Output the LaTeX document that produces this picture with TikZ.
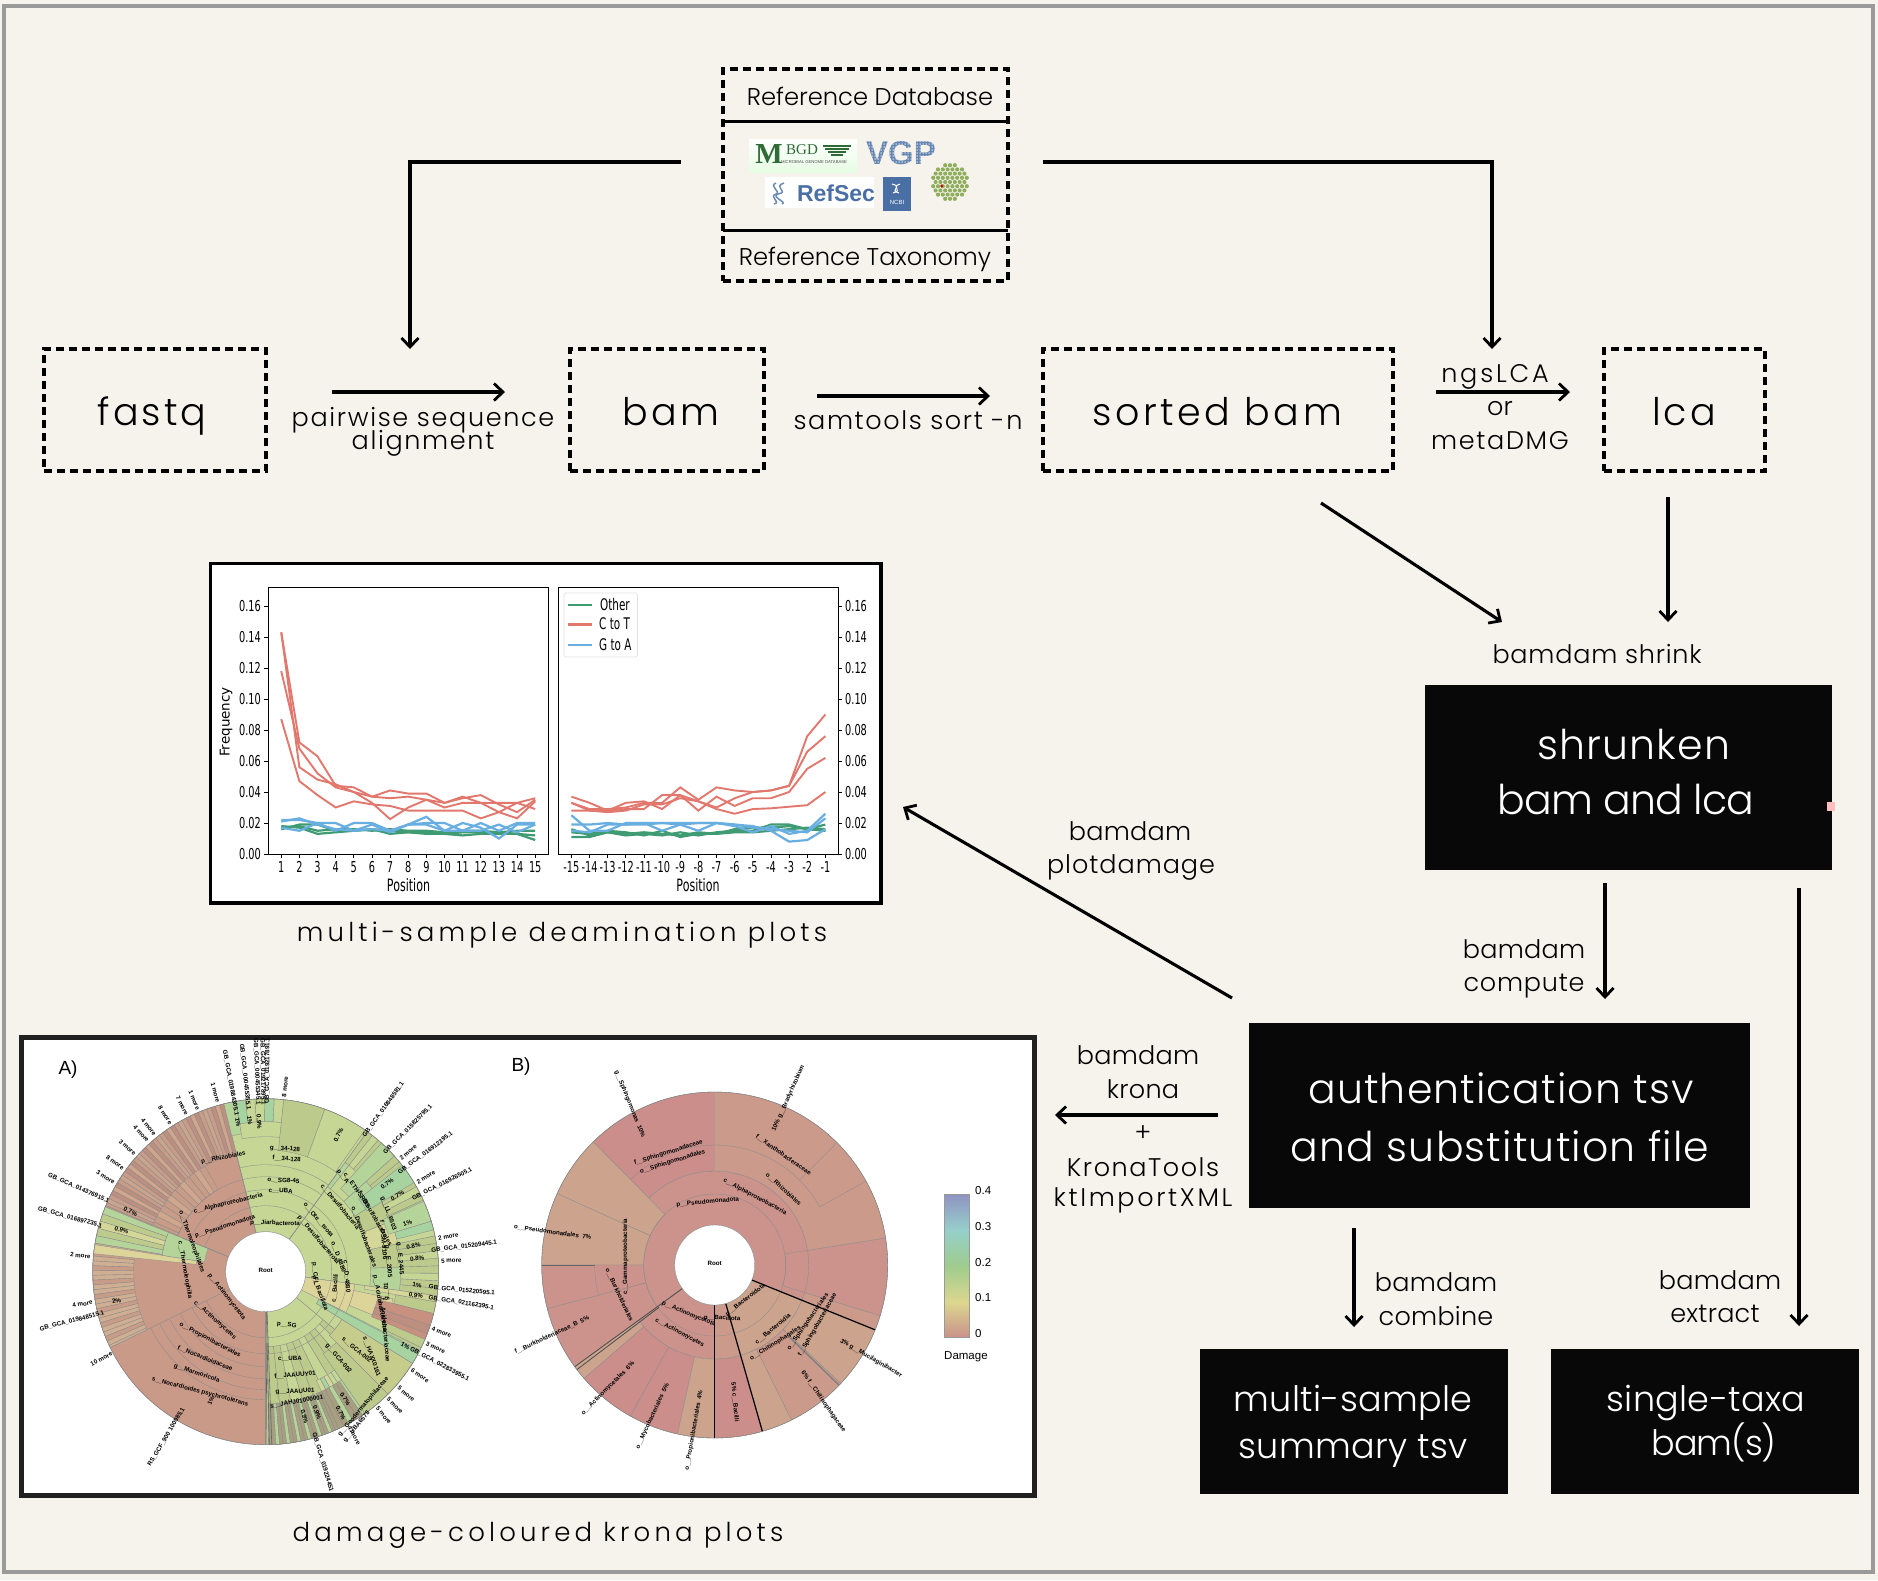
\documentclass[tikz,border=0pt]{standalone}
\usepackage{fontspec}
\usetikzlibrary{arrows.meta}
\setmainfont{Poppins Light}
\newfontfamily\labf{Poppins Light}[LetterSpace=1]
\newfontfamily\wide{Poppins Light}[LetterSpace=8]
\newfontfamily\capf{Poppins Light}[LetterSpace=16]
\newfontfamily\arialf{Liberation Sans}
\newfontfamily\plotf{DejaVu Sans}[FakeStretch=0.65]
\newfontfamily\dejaf{DejaVu Sans}
\newfontfamily\serf{Liberation Serif}
\definecolor{paper}{HTML}{F5F3EC}
\definecolor{frame}{HTML}{9A9A9A}
\definecolor{pred}{HTML}{E2786D}
\definecolor{pgreen}{HTML}{3E9B73}
\definecolor{pblue}{HTML}{68AEE0}
\definecolor{kr0}{HTML}{C99C88}\definecolor{kr1}{HTML}{C7907F}\definecolor{kr2}{HTML}{D0A68C}\definecolor{kr3}{HTML}{BD8F80}\definecolor{kr4}{HTML}{CFAE92}\definecolor{kr5}{HTML}{C9A48F}
\definecolor{kg0}{HTML}{C6D694}\definecolor{kg1}{HTML}{B5D49A}\definecolor{kg2}{HTML}{A6D3A0}\definecolor{kg3}{HTML}{D5D798}\definecolor{kg4}{HTML}{BCCB8C}\definecolor{kg5}{HTML}{C2D89A}
\definecolor{km0}{HTML}{B5D49A}\definecolor{km1}{HTML}{C69F8A}\definecolor{km2}{HTML}{9FC893}\definecolor{km3}{HTML}{C6D694}\definecolor{km4}{HTML}{A89F80}\definecolor{km5}{HTML}{D5D798}
\definecolor{kred}{HTML}{CA9A88}\definecolor{klg}{HTML}{C6D694}\definecolor{ktan}{HTML}{DDD49A}\definecolor{kol}{HTML}{C5CC8C}
\definecolor{bA}{HTML}{CB938B}\definecolor{bB}{HTML}{CC9A8B}\definecolor{bC}{HTML}{CCA38C}\definecolor{bD}{HTML}{CB8E8A}
\definecolor{bar0}{HTML}{C9928A}\definecolor{bar1}{HTML}{DCD78F}\definecolor{bar2}{HTML}{9FCC8D}\definecolor{bar3}{HTML}{96CFCB}\definecolor{bar4}{HTML}{8F93C2}
\definecolor{logog}{HTML}{2F6B36}\definecolor{logob}{HTML}{4A6FA5}\definecolor{hexg}{HTML}{8FAE5D}
\tikzset{
 dbox/.style={draw=black,line width=3.2pt,dash pattern=on 8pt off 5pt,inner sep=0pt},
 bbox/.style={fill=black!97,draw=none,inner sep=0pt},
 conn/.style={draw=black,line width=3.1pt,-{Straight Barb[length=9pt,width=17pt,line width=2.8pt]}},
 t25/.style={font=\labf\fontsize{25.5}{26}\selectfont,inner sep=0pt},
 ts25/.style={font=\labf\addfontfeatures{LetterSpace=#1}\fontsize{25.5}{26}\selectfont,inner sep=0pt},
 tbig/.style={font=\wide\fontsize{38}{38}\selectfont,inner sep=0pt},
 twh/.style={font=\labf\addfontfeatures{LetterSpace=#1}\fontsize{41}{42}\selectfont,text=white,inner sep=0pt},
 twh2/.style={font=\labf\fontsize{35}{36}\selectfont,text=white,inner sep=0pt},
 tcap/.style={font=\capf\fontsize{26}{28}\selectfont,inner sep=0pt},
 ptick/.style={font=\plotf\fontsize{15}{15}\selectfont,inner sep=0pt},
 ppos/.style={font=\plotf\fontsize{17}{17}\selectfont,inner sep=0pt},
 krl/.style={draw=black!45,line width=0.35pt},
 ktxt/.style={font=\arialf\bfseries\fontsize{6.2}{6.2}\selectfont,inner sep=0pt,text=black},
 barl/.style={font=\arialf\fontsize{11.5}{12}\selectfont,inner sep=0pt},
}
\newcommand\kw[5]{\filldraw[krl,fill=#5] (#1:#3) -- (#1:#4) arc[start angle=#1,end angle=#2,radius=#4] -- (#2:#3) arc[start angle=#2,end angle=#1,radius=#3] -- cycle;}
% \stripes{from}{to}{step}{inner radius}{palette}
\newcommand\stripes[5]{\pgfmathsetmacro\snd{#1+#3}\foreach \sa [count=\si] in {#1,\snd,...,#2}{%
  \pgfmathtruncatemacro\idx{mod(\si*\si+2*\si+\si*int(#4/10),6)}%
  \pgfmathsetmacro\sb{min(\sa+#3,#2)}%
  \kw{\sa}{\sb}{#4}{173}{#5\idx}}}
\newcount\klc
\newcommand\kz[4]{\global\advance\klc by 1 \node[ktxt,rotate=#3] (kl\the\klc) at ({(#1-767)/3},{(725-#2)/3}) {#4};}
\newcommand\kr[3]{\global\advance\klc by 1 \pgfmathsetmacro\rr{(cos(#1)<0)?#1+180:#1}\node[ktxt,rotate=\rr] (kl\the\klc) at (#1:#2) {#3};}
\newcommand\kbz[4]{\global\advance\klc by 1 \node[ktxt,rotate=#3] (kl\the\klc) at ({(#1-612)/2.851},{(705-#2)/3}) {#4};}
\newcommand\pline[3]{\foreach \v [count=\i] in {#3}{\ifnum\i=1 \xdef\pp{(\i,\v)}\else\xdef\pp{\pp -- (\i,\v)}\fi}\draw[color=#1,line width=#2] \pp;}
\begin{document}
\begin{tikzpicture}[x=1pt,y=-1pt,line join=miter]
\useasboundingbox (0,0) rectangle (1878,1580);
\fill[paper] (0,0) rectangle (1878,1580);
\draw[frame,line width=4pt] (4,6) rectangle (1873,1572);

% --- reference database
\node[dbox,minimum width=285pt,minimum height=212pt] (refdb) at (865.5,175) {};
\coordinate (refL) at (681,162);
\coordinate (refR) at (1043,162);
\draw[line width=3pt] (723,121) -- (1008,121);
\draw[line width=3pt] (723,230) -- (1008,230);
\node[font=\fontsize{24.2}{25}\selectfont,inner sep=0pt] (tdb) at (870,96) {Reference Database};
\node[font=\fontsize{24.2}{25}\selectfont,inner sep=0pt] (ttax) at (865,259) {Reference Taxonomy};
% logos
\shade[top color=white,bottom color=paper!70!green!30] (749,139) rectangle (857,172);
\node[font=\serf\bfseries\fontsize{29}{29}\selectfont,text=logog,inner sep=0pt] (lgM) at (769,154) {M};
\node[font=\serf\fontsize{15}{15}\selectfont,text=logog,inner sep=0pt] (lgB) at (802,150) {BGD};
\foreach \yy/\xa/\xb in {146/823/851,149/825/849,152/828/846,155/831/843}{\draw[logog,line width=1.5pt] (\xa,\yy) -- (\xb,\yy);}
\node[font=\arialf\fontsize{4.2}{5}\selectfont,text=black!70,inner sep=0pt] (lgD) at (814,162) {MICROBIAL GENOME DATABASE};
\node[font=\arialf\bfseries\fontsize{33}{33}\selectfont,text=logob!85,inner sep=0pt] (lgV) at (901,153) {VGP};
\foreach \gx in {866,869,...,938}{\foreach \gy in {138,141,...,168}{\fill[paper] (\gx,\gy) circle (0.75pt);}}
\fill[white] (765,177) rectangle (874,208);
\node[font=\arialf\bfseries\fontsize{23}{23}\selectfont,text=logob,inner sep=0pt] (lgR) at (836,193) {RefSec};
\draw[logob!80,line width=1.5pt] (776,183) .. controls (768,186) and (782,192) .. (776,194) .. controls (768,197) and (782,202) .. (774,204);
\draw[logob!80,line width=1.5pt] (784,183) .. controls (772,187) and (790,192) .. (778,194) .. controls (770,197) and (788,202) .. (782,204);
\fill[logob] (883,177) rectangle (911,211);
\draw[white,line width=1pt] (892,184) .. controls (904,187) and (888,190) .. (899,193);
\draw[white,line width=1pt] (900,184) .. controls (890,187) and (904,190) .. (893,193);
\node[font=\arialf\fontsize{6}{6}\selectfont,text=white,inner sep=0pt] (lgN) at (897,202) {NCBI};
\foreach \j in {-4,...,4}{\foreach \ii in {-4,...,4}{
  \pgfmathsetmacro\hx{\ii*4.8+mod(abs(\j),2)*2.4}\pgfmathsetmacro\hy{\j*4.2}
  \pgfmathtruncatemacro\ins{(abs(\hx)<=17 && abs(\hy)+abs(\hx)*0.577<=20)?1:0}
  \ifnum\ins=1 \fill[hexg] ({950+\hx},{182+\hy}) circle (2.1pt);\fi}}
\fill[red!80!black] (941.7,186) circle (1.6pt);

% --- top row
\node[dbox,minimum width=222pt,minimum height=122pt] (fastq) at (155,410) {};
\node[tbig] (tf) at (152,416) {fastq};
\node[dbox,minimum width=194pt,minimum height=122pt] (bam) at (667,410) {};
\node[tbig] (tb) at (671,412) {bam};
\node[dbox,minimum width=350pt,minimum height=122pt] (sbam) at (1218,410) {};
\node[tbig,font=\wide\addfontfeatures{LetterSpace=9.5}\fontsize{38}{38}\selectfont] (ts) at (1217,412) {sorted bam};
\node[dbox,minimum width=161pt,minimum height=122pt] (lca) at (1684.5,410) {};
\node[tbig] (tl) at (1684,412) {lca};

\coordinate (pwA) at (332,392); \coordinate (pwB) at (505,392);
\coordinate (stA) at (817,396); \coordinate (stB) at (990,396);
\coordinate (ngA) at (1436,392); \coordinate (ngB) at (1570,392);
\coordinate (dbLt) at (410,349); \coordinate (dbRt) at (1492,349);
\draw[conn] (pwA) -- (pwB);
\draw[conn] (stA) -- (stB);
\draw[conn] (ngA) -- (ngB);
\draw[conn] (refL) -| (dbLt);
\draw[conn] (refR) -| (dbRt);
\node[ts25=6.5] (t1) at (423,420) {pairwise sequence};
\node[ts25=6.5] (t2) at (423,443) {alignment};
\node[ts25=6.3] (t3) at (908,420) {samtools sort -n};
\node[ts25=11] (t4) at (1495,377) {ngsLCA};
\node[t25] (t5) at (1500,409) {or};
\node[ts25=6.5] (t6) at (1500,441) {metaDMG};

% --- black boxes
\node[bbox,minimum width=407pt,minimum height=185pt] (shr) at (1628.5,777.5) {};
\node[twh=2.8] (s1) at (1634,744) {shrunken};
\node[twh=-2] (s2) at (1626,799) {bam and lca};
\fill[pink] (1827,802) rectangle (1835,811);
\node[bbox,minimum width=501pt,minimum height=185pt] (auth) at (1499.5,1115) {};
\node[twh=2.6] (a1) at (1501,1088) {authentication tsv};
\node[twh=2.8] (a2) at (1500,1146) {and substitution file};
\node[bbox,minimum width=308pt,minimum height=145pt] (msum) at (1354,1421.5) {};
\node[twh2] (m1) at (1353,1403) {multi-sample};
\node[twh2] (m2) at (1353,1451) {summary tsv};
\node[bbox,minimum width=308pt,minimum height=145pt] (stax) at (1705,1421.5) {};
\node[twh2] (x1) at (1706,1403) {single-taxa};
\node[twh2,font=\labf\addfontfeatures{LetterSpace=-3}\fontsize{35}{36}\selectfont] (x2) at (1714,1442) {bam(s)};

\coordinate (a1s) at (1321,503); \coordinate (a1e) at (1502,622);
\coordinate (a2s) at (1668,497); \coordinate (a2e) at (1668,622);
\coordinate (a3s) at (1605,883); \coordinate (a3e) at (1605,999);
\coordinate (a4s) at (1799,888); \coordinate (a4e) at (1799,1326);
\coordinate (a5s) at (1354,1228); \coordinate (a5e) at (1354,1327);
\coordinate (a6s) at (1218,1115); \coordinate (a6e) at (1055,1115);
\coordinate (a7s) at (1232,998); \coordinate (a7e) at (903,807);
\draw[conn] (a1s) -- (a1e);
\draw[conn] (a2s) -- (a2e);
\draw[conn] (a3s) -- (a3e);
\draw[conn] (a4s) -- (a4e);
\draw[conn] (a5s) -- (a5e);
\draw[conn] (a6s) -- (a6e);
\draw[conn] (a7s) -- (a7e);

\node[ts25=3] (l1) at (1597,654) {bamdam shrink};
\node[t25] (l2) at (1130,831) {bamdam};
\node[ts25=3.8] (l3) at (1131,867) {plotdamage};
\node[t25] (l4) at (1524,949) {bamdam};
\node[ts25=3] (l5) at (1524,986) {compute};
\node[t25] (l6) at (1138,1055) {bamdam};
\node[t25] (l7) at (1143,1089) {krona};
\node[t25] (l8) at (1143,1134) {+};
\node[ts25=6] (l9) at (1143,1167) {KronaTools};
\node[ts25=10.4] (l10) at (1143,1200) {ktImportXML};
\node[t25] (l11) at (1436,1282) {bamdam};
\node[t25] (l12) at (1436,1316) {combine};
\node[t25] (l13) at (1720,1280) {bamdam};
\node[t25] (l14) at (1715,1314) {extract};
\node[tcap] (c1) at (562,935) {multi-sample deamination plots};
\node[tcap] (c2) at (538,1535) {damage-coloured krona plots};

% --- deamination plots
\draw[black,fill=white,line width=3.2pt] (210.5,563.5) rectangle (881,903);
\begin{scope}[shift={(263.11,854)},x=18.14pt,y=1550pt]
 \pline{pgreen}{2.2pt}{.018,.017,.013,.014,.015,.016,.013,.014,.013,.013,.012,.013,.013,.013,.009}
 \pline{pgreen}{2.2pt}{.016,.019,.019,.015,.015,.016,.015,.014,.014,.013,.014,.014,.014,.013,.012}
 \pline{pgreen}{2.2pt}{.017,.018,.015,.016,.016,.015,.016,.015,.015,.014,.015,.015,.014,.015,.015}
 \pline{pblue}{2.2pt}{.022,.022,.020,.015,.020,.020,.015,.019,.024,.015,.020,.017,.010,.019,.019}
 \pline{pblue}{2.2pt}{.021,.023,.019,.016,.015,.016,.015,.019,.020,.020,.015,.015,.019,.014,.019}
 \pline{pblue}{2.2pt}{.017,.015,.020,.020,.015,.019,.014,.019,.019,.015,.015,.020,.015,.020,.020}
 \pline{pred}{1.9pt}{.143,.072,.063,.044,.043,.037,.036,.037,.035,.033,.037,.033,.033,.033,.029}
 \pline{pred}{1.9pt}{.118,.068,.052,.043,.040,.037,.041,.039,.039,.033,.036,.038,.032,.027,.035}
 \pline{pred}{1.9pt}{.087,.047,.038,.030,.034,.032,.031,.028,.028,.028,.028,.023,.027,.033,.036}
 \pline{pred}{1.9pt}{.143,.056,.048,.045,.040,.033,.0225,.030,.035,.030,.033,.033,.027,.023,.034}
\end{scope}
\begin{scope}[shift={(553.26,854)},x=18.14pt,y=1550pt]
 \pline{pgreen}{2.2pt}{.016,.012,.014,.012,.013,.012,.014,.012,.014,.015,.015,.019,.019,.016,.019}
 \pline{pgreen}{2.2pt}{.011,.011,.014,.013,.014,.013,.012,.014,.013,.016,.017,.017,.018,.016,.015}
 \pline{pgreen}{2.2pt}{.014,.013,.015,.014,.012,.015,.011,.013,.013,.014,.014,.015,.016,.017,.016}
 \pline{pblue}{2.2pt}{.025,.015,.015,.020,.020,.020,.019,.020,.020,.019,.018,.015,.008,.009,.016}
 \pline{pblue}{2.2pt}{.019,.019,.020,.019,.019,.020,.020,.020,.020,.018,.014,.018,.013,.015,.026}
 \pline{pblue}{2.2pt}{.015,.014,.019,.019,.020,.015,.019,.015,.020,.019,.017,.016,.015,.014,.023}
 \pline{pred}{1.9pt}{.037,.033,.028,.033,.034,.029,.038,.034,.030,.036,.040,.041,.044,.076,.090}
 \pline{pred}{1.9pt}{.033,.029,.029,.030,.033,.033,.043,.035,.043,.041,.040,.041,.044,.066,.076}
 \pline{pred}{1.9pt}{.033,.028,.028,.029,.029,.038,.038,.028,.037,.031,.036,.036,.040,.055,.062}
 \pline{pred}{1.9pt}{.028,.028,.027,.028,.032,.032,.036,.034,.029,.026,.029,.0295,.0305,.0315,.040}
\end{scope}
\draw[line width=0.9pt] (268,587) rectangle (548,854);
\draw[line width=0.9pt] (558,587) rectangle (838,854);
\foreach \v [count=\n] in {0.00,0.02,0.04,0.06,0.08,0.10,0.12,0.14,0.16}{
  \pgfmathsetmacro\yy{854-\v*1550}
  \draw[line width=0.8pt] (264,\yy) -- (268,\yy);
  \draw[line width=0.8pt] (838,\yy) -- (842,\yy);
  \node[ptick,anchor=east] (yl\n) at (261,\yy) {\v};
  \node[ptick,anchor=west] (yr\n) at (845,\yy) {\v};
}
\foreach \n in {1,...,15}{
  \pgfmathsetmacro\xa{263.11+\n*18.14}
  \pgfmathsetmacro\xb{553.26+\n*18.14}
  \pgfmathtruncatemacro\lab{\n-16}
  \draw[line width=0.8pt] (\xa,854) -- (\xa,858);
  \draw[line width=0.8pt] (\xb,854) -- (\xb,858);
  \node[ptick] (xl\n) at (\xa,867) {\n};
  \node[ptick] (xr\n) at (\xb,867) {\lab};
}
\node[ppos] (pl) at (408.5,885) {Position};
\node[ppos] (pr) at (698,885) {Position};
\node[font=\dejaf\fontsize{13.5}{14}\selectfont,rotate=90,inner sep=0pt] (fr) at (226,722) {Frequency};
\draw[black!12,rounded corners=1.5pt,fill=white,line width=0.7pt] (564,593) rectangle (637.5,657);
\draw[pgreen,line width=2.6pt] (568,605) -- (591.5,605);
\draw[pred,line width=2.6pt] (568,624.5) -- (591.5,624.5);
\draw[pblue,line width=2.6pt] (568,645) -- (591.5,645);
\node[ppos,font=\plotf\fontsize{16}{16}\selectfont,anchor=west] (lg1) at (600,604.5) {Other};
\node[ppos,font=\plotf\fontsize{16}{16}\selectfont,anchor=west] (lg2) at (599,624) {C to T};
\node[ppos,font=\plotf\fontsize{16}{16}\selectfont,anchor=west] (lg3) at (599,644.5) {G to A};

% --- krona panel
\draw[black!87,fill=white,line width=5pt] (21.5,1037.5) rectangle (1034.5,1495);
\node[font=\arialf\fontsize{19}{19}\selectfont,inner sep=0pt] (kA) at (68,1070) {A)};
\node[font=\arialf\fontsize{19}{19}\selectfont,inner sep=0pt] (kB) at (521,1067) {B)};

% krona A
\begin{scope}[shift={(265.7,1271.7)},x=1pt,y=1pt]
 \kw{206}{270}{40}{173}{kred}
 \kw{158}{206}{40}{173}{kred}
 \kw{104}{158}{40}{173}{kred}
 \kw{54}{104}{40}{173}{klg}
 \kw{-8}{54}{40}{173}{klg}
 \kw{-40}{-8}{40}{173}{klg}
 \kw{-90}{-40}{40}{173}{klg}
 % left bands
 \stripes{170}{206}{1.6}{132}{kr}
 \kw{171}{174}{70}{173}{ktan}
 \kw{158}{171}{62}{105}{kg1}
 \stripes{158}{170.5}{2.5}{105}{kg}
 % upper-left red stripes
 \stripes{120}{157.5}{3}{95}{kr}
 \stripes{104}{157.5}{1.5}{122}{kr}
 % top
 \kw{100}{104}{140}{173}{kg1}
 \stripes{84}{100}{3.2}{150}{kg}
 \kw{84}{100}{135}{150}{kg0}
 \kw{70}{84}{122}{173}{kg4}
 \kw{55}{70}{122}{173}{klg}
 % right side
 \stripes{-8}{54}{10}{105}{kg}
 \stripes{-8}{54}{2.5}{135}{kg}
 \kw{14}{17}{135}{173}{kg2}
 \kw{17}{24}{128}{173}{kg1}
 \kw{31}{38}{118}{173}{kg2}
 \kw{42}{48}{112}{173}{kg1}
 % lower right
 \kw{-27}{-8}{40}{90}{ktan}
 \kw{-22}{-12}{90}{130}{ktan}
 \stripes{-30}{-8}{4}{132}{kg}
 \kw{-23}{-14}{115}{173}{kr1}
 \kw{-21}{-18}{115}{173}{kr3}
 \kw{-10}{-8}{100}{173}{kg3}
 \kw{-32}{-27}{60}{173}{kg2}
 \kw{-45}{-32}{90}{173}{kol}
 \kw{-55}{-45}{100}{173}{kg4}
 % bottom right
 \stripes{-89}{-40}{5}{75}{kg}
 \stripes{-65}{-55}{2}{120}{kg}
 \kw{-45}{-32}{90}{173}{kol}
 \stripes{-89}{-65}{1.2}{132}{km}
 \stripes{-65}{-55}{1.8}{132}{km}
 \kw{-55}{-45}{100}{173}{kg4}
 \kw{-32}{-27.5}{60}{173}{kg2}
 \foreach \aa in {-89.6,-88.8,-88}{\draw[black!60,line width=0.6pt] (\aa:40) -- (\aa:173);}
 % ring lines
 \foreach \rr in {66,82,95,107,118,128}{\draw[krl] (206:\rr) arc[start angle=206,end angle=270,radius=\rr];}
 \foreach \rr in {66,82,95,107}{\draw[krl] (54:\rr) arc[start angle=54,end angle=104,radius=\rr];}
 \foreach \rr in {66,82,95}{\draw[krl] (104:\rr) arc[start angle=104,end angle=158,radius=\rr];}
 \foreach \rr in {66,82}{\draw[krl] (-90:\rr) arc[start angle=-90,end angle=54,radius=\rr];}
 \draw[krl,line width=0.6pt] (54:40) -- (54:125);
 \draw[krl,line width=0.6pt] (104:40) -- (104:125);
 \draw[krl,line width=0.6pt] (158:40) -- (158:90);
 \draw[krl,line width=0.6pt] (270:40) -- (270:173);
 \fill[white] (0,0) circle (40);
 \draw[krl] (0,0) circle (40);
 \draw[black!50,line width=0.4pt] (0,0) circle (173);
 % labels
 \kz{767}{720}{0}{Root}
 \kz{650}{800}{-52}{p\_\_Actinomycetota}
 \kz{615}{870}{-42}{c\_\_Actinomycetes}
 \kz{600}{930}{-28}{o\_\_Propionibacteriales}
 \kz{585}{985}{-22}{f\_\_Nocardioidaceae}
 \kz{560}{1030}{-18}{g\_\_Marmoricola}
 \kz{570}{1085}{-15}{s\_\_Nocardioides psychrotolerans}
 \kz{825}{357}{-4}{g\_\_34-128}
 \kz{830}{387}{-4}{f\_\_34-128}
 \kz{820}{452}{-3}{o\_\_SG8-45}
 \kz{812}{483}{-3}{c\_\_UBA}
 \kz{795}{580}{-2}{p\_\_Jiarbacterota}
 \kz{640}{383}{12}{p\_\_Rhizobiales}
 \kz{655}{520}{14}{c\_\_Alphaproteobacteria}
 \kz{645}{590}{18}{p\_\_Pseudomonadota}
 \kz{925}{630}{-50}{p\_\_Desulfobacterota}
 \kz{925}{570}{-50}{o\_\_Ote\_\_tsota}
 \kz{990}{530}{-50}{c\_\_Desulfobacteria}
 \kz{998}{440}{-50}{p\_\_A}
 \kz{1040}{480}{-55}{c\_\_ETH-SRB1}
 \kz{1095}{565}{-60}{f\_\_Desulfobacterales}
 \kz{1062}{620}{-70}{o\_\_Desulfobacterales}
 \kz{1120}{630}{-85}{f\_\_DSM-9106}
 \kz{1135}{695}{-85}{g\_\_E\_2005}
 \kz{1170}{685}{-85}{g\_\_E\_2445}
 \kz{1135}{550}{-70}{g\_\_LL\_6503}
 \kz{985}{680}{-70}{o\_\_D\_4880}
 \kz{1010}{740}{-85}{c\_\_D\_4880}
 \kz{915}{730}{-85}{p\_\_CFL}
 \kz{930}{790}{-70}{p\_\_Bacillota}
 \kz{975}{775}{85}{c\_\_Bacilli}
 \kz{1110}{820}{-80}{p\_\_Acidobacteriota}
 \kz{1130}{785}{90}{g\_\_01}
 \kz{1085}{980}{-70}{s\_\_HAXX0161}
 \kz{1125}{900}{-85}{f\_\_Acidobacteriaceae}
 \kz{860}{1115}{10}{s\_\_JAHJ01000001}
 \kz{855}{1035}{5}{f\_\_JAAUUY01}
 \kz{855}{1085}{2}{g\_\_JAAUU01}
 \kz{840}{985}{0}{c\_\_UBA}
 \kz{830}{885}{-5}{p\_\_SG}
 \kz{985}{985}{-50}{g\_\_GCA-002}
 \kz{1040}{960}{-40}{s\_\_GCA-002}
 \kz{545}{635}{-70}{o\_\_Thermoleophilales}
 \kz{525}{720}{-80}{c\_\_Thermoleophilia}
 \kz{1060}{1130}{50}{g\_\_Geodermatophilaceae}
 \kz{1040}{1190}{50}{g\_\_UBA6578}
 \kr{100.5}{192}{GB\_GCA\_019884305.1}
 \kr{96}{196}{GB\_GCA\_000455355.1}
 \kr{92.5}{200}{GB\_GCA\_000455345.1}
 \kr{90.8}{200}{GB\_GCA\_019217895.1}
 \kr{89.5}{201}{GB\_GCA\_019217891.1}
 \kr{54}{200}{GB\_GCA\_016848581.1}
 \kr{45}{201}{GB\_GCA\_015825795.1}
 \kr{36.6}{199}{GB\_GCA\_016912395.1}
 \kr{26.4}{197}{GB\_GCA\_016926505.1}
 \kr{7.2}{200}{GB\_GCA\_015209445.1}
 \kr{-5.4}{197}{GB\_GCA\_015220595.1}
 \kr{-9}{198}{GB\_GCA\_021162395.1}
 \kr{-28}{197}{GB\_GCA\_022833955.1}
 \kr{-73.3}{199}{GB\_GCA\_019224451}
 \kr{239}{193}{RS\_GCF\_900 100985.1}
 \kr{194.3}{200}{GB\_GCA\_019848515.1}
 \kr{164.5}{203}{GB\_GCA\_016897235.1}
 \kr{155.9}{205}{GB\_GCA\_014376915.1}
 \foreach \ang/\txt in {84/8 more,105.7/1 more,112.6/1 more,116.7/7 more,122.7/8 more,129/4 more,132/4 more,138/3 more,144/8 more,149.4/3 more,40/2 more,30.5/2 more,11/2 more,3.5/5 more,-19/4 more,-24/3 more,-34/6 more,-41/5 more,-46/5 more,-50.6/5 more,-61.6/4 more,175/2 more,190/4 more,208/10 more}{\kr{\ang}{186}{\txt}}
 \foreach \ang/\rad/\txt in {100.5/152/1\%,96/152/1\%,92.5/150/0.9\%,62/155/0.7\%,36/150/0.7\%,30/152/0.7\%,19/150/1\%,10/150/0.8\%,5/152/0.8\%,-5/152/1\%,-9/152/0.9\%,-28/158/1\%,-58/150/0.7\%,-62/160/0.7\%,-70/150/0.9\%,-75/150/0.9\%,247/140/1\%,191/152/2\%,164/150/0.9\%,156/148/0.7\%}{\kr{\ang}{\rad}{\txt}}
\end{scope}

% krona B
\begin{scope}[shift={(714.7,1265)},x=1pt,y=1pt]
 \kw{-22}{216}{40}{94}{bA}
 \kw{216}{270}{40}{94}{bA}
 \kw{270}{286}{40}{94}{bB}
 \kw{286}{338}{40}{94}{bC}
 \kw{-22}{-17}{94}{173}{bB}
 \kw{-17}{9}{71}{173}{bA}
 \filldraw[krl,fill=bB] (9:94) -- (9:173) arc[start angle=9,end angle=90,radius=173] -- (90:94) arc[start angle=90,end angle=9,radius=94] -- cycle;
 \kw{90}{134.6}{94}{173}{bD}
 \kw{134.6}{155.6}{71}{173}{bC}
 \kw{155.6}{180}{71}{173}{bC}
 \kw{180}{194.6}{71}{173}{bA}
 \kw{194.6}{216}{71}{173}{bA}
 \kw{216}{221}{94}{173}{bC}
 \kw{221}{240.8}{94}{173}{bD}
 \kw{240.8}{257.6}{94}{173}{bD}
 \kw{257.6}{270}{94}{173}{bC}
 \kw{270}{286}{94}{173}{bD}
 \kw{286}{296.4}{94}{173}{bC}
 \kw{296.4}{316.8}{94}{173}{bB}
 \kw{316.8}{338}{94}{173}{bC}
 \draw[krl] (-17:94) arc[start angle=-17,end angle=9,radius=94];
 \draw[krl] (29:120) arc[start angle=29,end angle=90,radius=120];
 \draw[krl] (90:120) arc[start angle=90,end angle=134.6,radius=120];
 \draw[krl] (29:120) -- (29:173);
 \draw[krl] (45:120) -- (45:173);
 \draw[krl] (0:71) arc[start angle=0,end angle=360,radius=71];
 \draw[krl] (194.6:120) arc[start angle=194.6,end angle=180,radius=120];
 \draw[black,line width=1.2pt] (-22:40) -- (-22:173);
 \draw[black,line width=1.2pt] (270:94) -- (270:173);
 \draw[black,line width=1.2pt] (270:40) -- (270:94);
 \draw[black,line width=1.2pt] (286:40) -- (286:173);
 \draw[black!70,line width=0.8pt] (216:40) -- (216:173);
 \draw[black!70,line width=0.8pt] (217.2:70) -- (217.2:173);
 \draw[black!50,line width=1.4pt] (316:105) -- (316:173);
 \draw[black!60,line width=0.6pt] (180:120) -- (180:173);
 \fill[white] (0,0) circle (40);
 \draw[krl] (0,0) circle (40);
 \draw[black!50,line width=0.4pt] (0,0) circle (173);
 \kbz{612}{700}{0}{Root}
 \kbz{592}{516}{5}{p\_\_Pseudomonadota}
 \kbz{727}{500}{-28}{c\_\_Alphaproteobacteria}
 \kbz{808}{478}{-42}{o\_\_Rhizobiales}
 \kbz{808}{375}{-35}{f\_\_Xanthobacteraceae}
 \kbz{480}{368}{17}{f\_\_Sphingomonadaceae}
 \kbz{492}{395}{17}{o\_\_Sphingomonadales}
 \kbz{822}{205}{66}{10\% g\_\_Bradyrhizobium}
 \kbz{370}{222}{-68}{g\_\_Sphingomonas\ \ 10\%}
 \kbz{150}{607}{-8}{o\_\_Pseudomonadales\ \ 7\%}
 \kbz{358}{680}{90}{c\_\_Gammaproteobacteria}
 \kbz{340}{795}{-65}{o\_\_Burkholderiales}
 \kbz{148}{915}{25}{f\_\_Burkholderiaceae\_B\ \ 5\%}
 \kbz{538}{852}{-22}{p\_\_Actinomycetota}
 \kbz{512}{908}{-28}{c\_\_Actinomycetes}
 \kbz{308}{1075}{45}{o\_\_Actinomycetales\ \ 6\%}
 \kbz{435}{1158}{65}{o\_\_Mycobacteriales\ \ 5\%}
 \kbz{553}{1200}{80}{o\_\_Propionibacteriales\ \ 4\%}
 \kbz{633}{865}{-3}{p\_\_Bacillota}
 \kbz{670}{1117}{-85}{5\% c\_\_Bacilli}
 \kbz{700}{810}{38}{p\_\_Bacteroidota}
 \kbz{778}{897}{40}{c\_\_Bacteroidia}
 \kbz{785}{940}{32}{o\_\_Chitinophagales}
 \kbz{878}{875}{55}{o\_\_Sphingobacteriales}
 \kbz{905}{885}{60}{f\_\_Sphingobacteriaceae}
 \kbz{1058}{985}{-30}{3\% g\_\_Mucilaginibacter}
 \kbz{922}{1115}{-55}{6\% f\_\_Chitinophagaceae}
\end{scope}
% colour bar
\shade[top color=bar4,bottom color=bar3] (944.4,1194) rectangle (969.7,1230);
\shade[top color=bar3,bottom color=bar2] (944.4,1230) rectangle (969.7,1266);
\shade[top color=bar2,bottom color=bar1] (944.4,1266) rectangle (969.7,1302);
\shade[top color=bar1,bottom color=bar0] (944.4,1302) rectangle (969.7,1337);
\draw[black!40,line width=0.5pt] (944.4,1194) rectangle (969.7,1337);
\node[barl,anchor=west] (b4) at (975,1191) {0.4};
\node[barl,anchor=west] (b3) at (975,1227) {0.3};
\node[barl,anchor=west] (b2) at (975,1263) {0.2};
\node[barl,anchor=west] (b1) at (975,1298) {0.1};
\node[barl,anchor=west] (b0) at (975,1334) {0};
\node[barl,anchor=west] (bd) at (944,1357) {Damage};
\end{tikzpicture}
\end{document}
